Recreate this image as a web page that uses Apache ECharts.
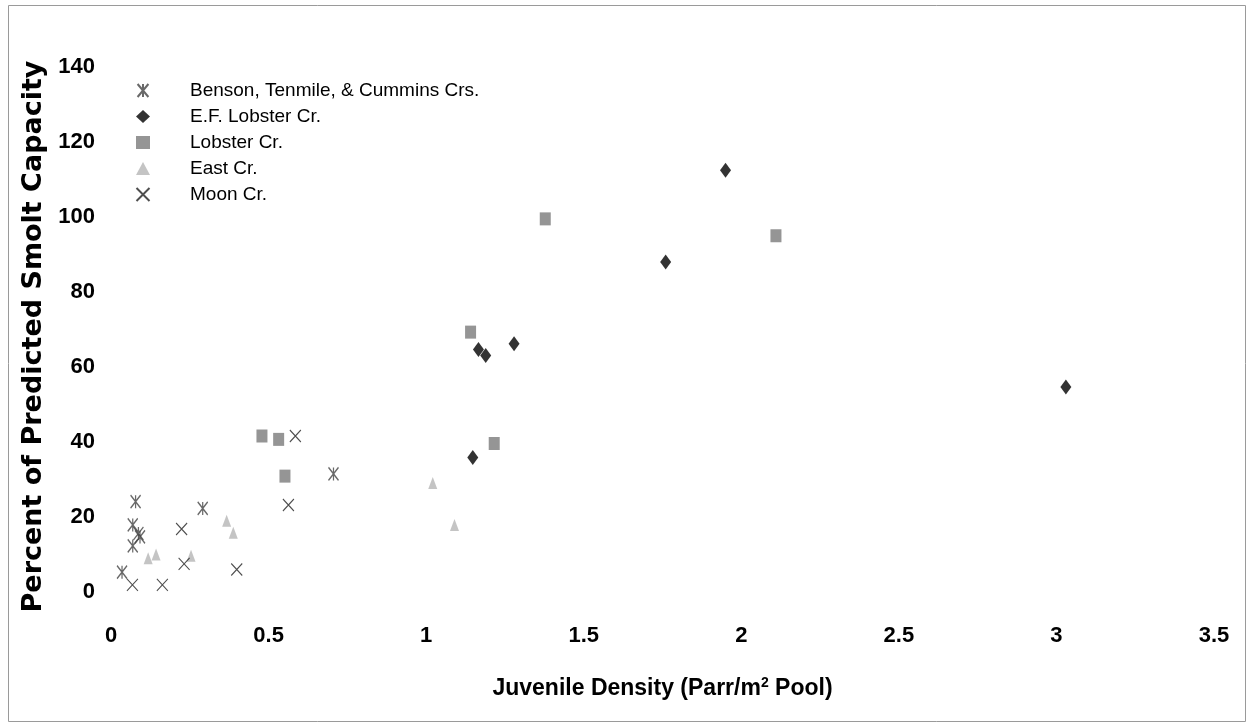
<!DOCTYPE html>
<html>
<head>
<meta charset="utf-8">
<script src="https://cdn.jsdelivr.net/npm/echarts@6/dist/echarts.min.js"></script>
<style>
  html, body { margin: 0; padding: 0; background: #fff; }
  #chart { width: 1254px; height: 728px; }
</style>
</head>
<body>
<div id="chart"></div>
<script>
// Juvenile density (x) vs percent of predicted smolt capacity (y), by creek
const seriesNames = [
  'Benson, Tenmile, & Cummins Crs.',
  'E.F. Lobster Cr.',
  'Lobster Cr.',
  'East Cr.',
  'Moon Cr.'
];

const bensonData = [
  [0.035, 5.3], [0.078, 24.1], [0.069, 17.9], [0.087, 15.6],
  [0.092, 14.7], [0.069, 12.3], [0.291, 22.3], [0.706, 31.5]
];
const efLobsterData = [
  [1.148, 35.9], [1.166, 64.7], [1.189, 63.1], [1.279, 66.2],
  [1.76, 88.0], [1.95, 112.5], [3.03, 54.7]
];
const lobsterData = [
  [0.479, 41.6], [0.532, 40.7], [0.552, 30.9], [1.141, 69.3],
  [1.216, 39.6], [1.378, 99.5], [2.11, 95.0]
];
const eastData = [
  [0.118, 9.0], [0.143, 10.0], [0.254, 9.7], [0.367, 19.0],
  [0.388, 15.8], [1.021, 29.1], [1.09, 17.9]
];
const moonData = [
  [0.585, 41.6], [0.563, 23.2], [0.224, 16.8], [0.232, 7.5],
  [0.399, 6.0], [0.068, 1.9], [0.163, 1.9]
];

const xTicks = { min: 0, max: 3.5, step: 0.5 };
const yTicks = { min: 0, max: 140, step: 20 };

const sansBold = '"Liberation Sans", Arial, sans-serif';

const tickFont = {
  fontFamily: sansBold,
  fontWeight: 'bold',
  fontSize: 22,
  color: '#000'
};

// asterisk: an X crossed by a vertical stroke; cross: a plain X
const asteriskPath = 'path://M0,0L10,12M10,0L0,12M5,0L5,12M5,12L5,0M10,12L0,0M0,12L10,0';
const crossPath = 'path://M0,0L10,10M10,0L0,10M0,10L10,0M10,10L0,0';

const chart = echarts.init(document.getElementById('chart'));
chart.setOption({
  backgroundColor: '#fff',
  animation: false,
  graphic: [{
    type: 'rect',
    shape: { x: 8.5, y: 5.5, width: 1237, height: 716 },
    style: { fill: 'none', stroke: '#9a9a9a', lineWidth: 1 }
  }],
  grid: { left: 111, right: 40, top: 67, bottom: 136 },
  legend: {
    orient: 'vertical',
    left: 129,
    top: 76,
    itemGap: 7,
    itemWidth: 14,
    itemHeight: 13,
    textStyle: {
      fontFamily: sansBold,
      fontSize: 19,
      color: '#000',
      padding: [0, 0, 0, 35]
    },
    data: seriesNames
  },
  xAxis: {
    type: 'value',
    min: xTicks.min, max: xTicks.max, interval: xTicks.step,
    name: 'Juvenile Density (Parr/m{sup|2} Pool)',
    nameLocation: 'middle',
    nameGap: 84,
    nameTextStyle: {
      fontFamily: sansBold,
      fontWeight: 'bold',
      fontSize: 23,
      color: '#000',
      rich: { sup: { fontFamily: sansBold, fontWeight: 'bold', fontSize: 14, verticalAlign: 'top', padding: [0, 0, 12, 0] } }
    },
    axisLine: { show: false },
    axisTick: { show: false },
    splitLine: { show: false },
    axisLabel: Object.assign({}, tickFont, { margin: 33 })
  },
  yAxis: {
    type: 'value',
    min: yTicks.min, max: yTicks.max, interval: yTicks.step,
    name: 'Percent of Predicted Smolt Capacity',
    nameLocation: 'middle',
    nameGap: 58,
    nameTextStyle: {
      fontFamily: '"DejaVu Sans", sans-serif',
      fontWeight: 'bold',
      fontSize: 27,
      color: '#000',
      padding: [0, 14, 0, 0]
    },
    axisLine: { show: false },
    axisTick: { show: false },
    splitLine: { show: false },
    axisLabel: Object.assign({}, tickFont, { margin: 16 })
  },
  series: [
    {
      name: seriesNames[0], type: 'scatter', data: bensonData,
      symbol: asteriskPath, symbolSize: [10, 13],
      itemStyle: { color: 'none', borderColor: '#444', borderWidth: 1.4 }
    },
    {
      name: seriesNames[1], type: 'scatter', data: efLobsterData,
      symbol: 'diamond', symbolSize: [11, 15],
      itemStyle: { color: '#000' }
    },
    {
      name: seriesNames[2], type: 'scatter', data: lobsterData,
      symbol: 'rect', symbolSize: [11, 13],
      itemStyle: { color: '#7a7a7a' }
    },
    {
      name: seriesNames[3], type: 'scatter', data: eastData,
      symbol: 'triangle', symbolSize: [9, 12],
      itemStyle: { color: '#b5b5b5' }
    },
    {
      name: seriesNames[4], type: 'scatter', data: moonData,
      symbol: crossPath, symbolSize: [11, 12],
      itemStyle: { color: 'none', borderColor: '#222', borderWidth: 1.1 }
    }
  ]
});
</script>
</body>
</html>
